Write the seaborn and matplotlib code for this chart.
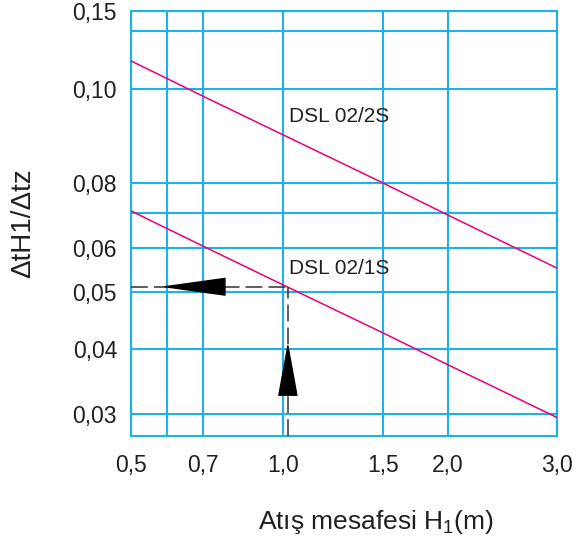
import numpy as np
import pandas as pd
import seaborn as sns
import matplotlib
matplotlib.use('Agg')
import matplotlib.pyplot as plt

# values (H1 in m, dtH1/dtz)
h1 = [0.5, 0.6, 0.7, 1.0, 1.5, 2.0, 3.0]
dsl_2s = [0.1157, 0.1056, 0.0983, 0.0897, 0.0800, 0.0694, 0.0552]
dsl_1s = [0.0707, 0.0654, 0.0605, 0.0515, 0.0426, 0.0373, 0.0295]

# reading example (dashed guide)
read_x = 1.02
read_y = 0.0511

x_ticks = [0.5, 0.7, 1.0, 1.5, 2.0, 3.0]
x_tick_labels = ['0,5', '0,7', '1,0', '1,5', '2,0', '3,0']
x_minor = [0.6]
y_ticks = [0.03, 0.04, 0.05, 0.06, 0.08, 0.10, 0.15]
y_tick_labels = ['0,03', '0,04', '0,05', '0,06', '0,08', '0,10', '0,15']
y_minor = [0.07, 0.135]

df = pd.DataFrame({
    'H1': h1 * 2,
    'ratio': dsl_2s + dsl_1s,
    'series': ['DSL 02/2S'] * len(h1) + ['DSL 02/1S'] * len(h1),
})

# the printed chart's axes are not a clean log scale, so map the labelled
# values onto the spacing of the original grid
x_knots = np.log10([0.5, 0.6, 0.7, 1.0, 1.5, 2.0, 3.0])
x_frac = (np.array([131, 167, 203, 283, 383, 448, 557]) - 131) / 426
y_knots = np.log10([0.027, 0.03, 0.04, 0.05, 0.06, 0.08, 0.10, 0.15])
y_frac = (436 - np.array([436, 414, 349, 292, 248, 183, 89, 11])) / 425


def make_scale(knots, frac):
    def fwd(v):
        v = np.clip(np.asarray(v, dtype=float), 1e-6, None)
        return np.interp(np.log10(v), knots, frac)

    def inv(p):
        return 10 ** np.interp(np.asarray(p, dtype=float), frac, knots)
    return fwd, inv


sns.set_style('white')
plt.rcParams['font.family'] = ['Liberation Sans', 'DejaVu Sans']
plt.rcParams['mathtext.default'] = 'regular'

grid_c = '#1eb1e7'
line_c = '#e6007e'
text_c = '#231f20'

fig = plt.figure(figsize=(5.78, 5.43), dpi=100)
ax = fig.add_axes([131 / 578, 1 - 436 / 543, 426 / 578, 425 / 543])
ax.set_xscale('function', functions=make_scale(x_knots, x_frac))
ax.set_yscale('function', functions=make_scale(y_knots, y_frac))

sns.lineplot(data=df, x='H1', y='ratio', hue='series', units='series',
             estimator=None, palette=[line_c, line_c], linewidth=1.1,
             legend=False, ax=ax, zorder=3)

ax.set_xlim(0.5, 3.0)
ax.set_ylim(0.027, 0.15)
ax.set_xticks(x_ticks)
ax.set_xticklabels(x_tick_labels)
ax.set_xticks(x_minor, minor=True)
ax.set_yticks(y_ticks)
ax.set_yticklabels(y_tick_labels)
ax.set_yticks(y_minor, minor=True)
ax.tick_params(which='both', length=0, labelsize=16.5, colors=text_c)
ax.tick_params(axis='x', pad=13)
ax.tick_params(axis='y', pad=10)
ax.grid(True, which='both', color=grid_c, linewidth=1.5)
for s in ax.spines.values():
    s.set_color(grid_c)
    s.set_linewidth(1.5)

# dashed reading guide with arrows
ax.plot([read_x, read_x], [0.027, read_y], color='#333333', lw=1.1,
        dashes=(11, 4), zorder=4)
ax.plot([0.5, read_x], [read_y, read_y], color='#333333', lw=1.1,
        dashes=(11, 4), zorder=4)
ax.annotate('', xy=(0.594, read_y), xytext=(0.772, read_y),
            arrowprops=dict(arrowstyle='wedge,tail_width=1.2,shrink_factor=0.5',
                            color='black', shrinkA=0, shrinkB=0), zorder=5)
ax.annotate('', xy=(read_x, 0.0405), xytext=(read_x, 0.0326),
            arrowprops=dict(arrowstyle='wedge,tail_width=1.3,shrink_factor=0.5',
                            color='black', shrinkA=0, shrinkB=0), zorder=5)

ax.text(1.025, 0.0936, 'DSL 02/2S', fontsize=15, color=text_c,
        va='center', ha='left')
ax.text(1.025, 0.0552, 'DSL 02/1S', fontsize=15, color=text_c,
        va='center', ha='left')

ax.set_ylabel('ΔtH1/Δtz', fontsize=20, color=text_c)
ax.yaxis.set_label_coords(-0.254, 0.5)
ax.yaxis.label.set_va('center')
ax.set_xlabel('Atış mesafesi H$_{1}$(m)', fontsize=19, color=text_c)
ax.xaxis.set_label_coords(0.575, -0.202)
ax.xaxis.label.set_va('center')

fig.savefig('out.png', dpi=100)
